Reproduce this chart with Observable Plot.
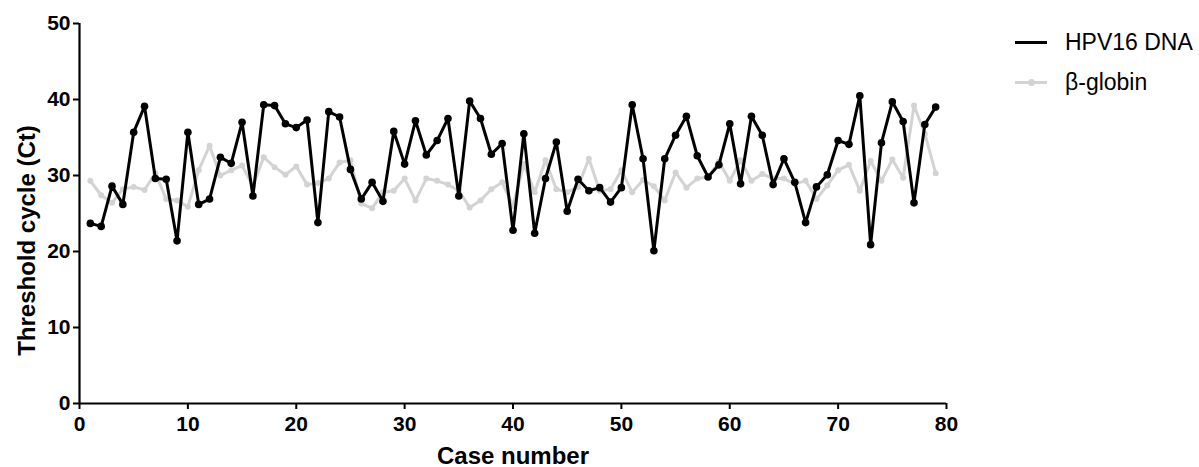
<!DOCTYPE html>
<html>
<head>
<meta charset="utf-8">
<script src="https://cdn.jsdelivr.net/npm/d3@7"></script>
<script src="https://cdn.jsdelivr.net/npm/@observablehq/plot@0.6"></script>
<style>
  html, body { margin: 0; padding: 0; background: #fff; }
  #wrap { position: relative; width: 1199px; height: 467px; }
  #legend { position: absolute; left: 1015px; top: 0; font-family: "Liberation Sans", Arial, sans-serif; font-size: 23px; color: #000; }
  .item { position: absolute; white-space: nowrap; height: 28px; line-height: 28px; }
  .sw { position: absolute; left: 0; top: 13px; width: 32px; height: 3px; }
  .lab { position: absolute; left: 50px; top: 0; }
</style>
</head>
<body>
<div id="wrap">
  <div id="chart"></div>
  <div id="legend">
    <div class="item" style="top:28px"><div class="sw" style="background:#000"></div><span class="lab">HPV16 DNA</span></div>
    <div class="item" style="top:68px"><div class="sw" style="background:#d3d3d3"></div><div style="position:absolute;left:13px;top:11px;width:7px;height:7px;border-radius:50%;background:#d3d3d3"></div><span class="lab">β-globin</span></div>
  </div>
</div>
<script>
const caseNumbers = d3.range(1, 80);
const hpv16 = [23.7, 23.3, 28.6, 26.2, 35.7, 39.1, 29.6, 29.5, 21.4, 35.7,
  26.2, 26.9, 32.4, 31.6, 37.0, 27.3, 39.3, 39.2, 36.8, 36.3,
  37.3, 23.8, 38.4, 37.7, 30.8, 26.9, 29.1, 26.6, 35.8, 31.5,
  37.2, 32.7, 34.6, 37.5, 27.3, 39.8, 37.5, 32.8, 34.2, 22.8,
  35.5, 22.4, 29.6, 34.4, 25.3, 29.5, 28.0, 28.4, 26.5, 28.4,
  39.3, 32.2, 20.1, 32.2, 35.3, 37.8, 32.6, 29.8, 31.4, 36.8,
  28.9, 37.8, 35.3, 28.8, 32.2, 29.1, 23.8, 28.5, 30.1, 34.6,
  34.1, 40.5, 20.9, 34.3, 39.7, 37.1, 26.4, 36.7, 39.0];
const betaGlobin = [29.3, 27.4, 26.4, 28.2, 28.5, 28.1, 30.3, 26.9, 26.7, 25.9,
  30.7, 33.9, 30.0, 30.7, 31.3, 28.6, 32.4, 31.1, 30.1, 31.2,
  28.8, 29.0, 29.6, 31.7, 32.0, 26.3, 25.7, 27.8, 28.0, 29.6,
  26.7, 29.6, 29.3, 28.8, 28.0, 25.8, 26.7, 28.2, 29.1, 26.0,
  31.5, 27.8, 32.0, 28.2, 27.8, 28.5, 32.2, 28.0, 28.2, 30.7,
  27.8, 29.4, 28.6, 26.7, 30.4, 28.4, 29.6, 29.8, 31.8, 29.3,
  32.0, 29.3, 30.2, 29.6, 29.6, 28.9, 29.3, 26.9, 28.7, 30.7,
  31.4, 28.0, 31.9, 29.3, 32.1, 29.7, 39.2, 35.5, 30.3];
const xTicks = [0, 10, 20, 30, 40, 50, 60, 70, 80];
const yTicks = [0, 10, 20, 30, 40, 50];

const hpvData = caseNumbers.map((c, i) => ({c, v: hpv16[i]}));
const betaData = caseNumbers.map((c, i) => ({c, v: betaGlobin[i]}));

const chart = Plot.plot({
  width: 1199,
  height: 467,
  marginLeft: 79,
  marginRight: 253,
  marginTop: 23,
  marginBottom: 64,
  style: {fontFamily: "'Liberation Sans', Arial, sans-serif", fontSize: "21px", fontWeight: "bold", color: "#000", background: "#fff"},
  x: {domain: [0, 80]},
  y: {domain: [0, 50]},
  marks: [
    Plot.axisX({ticks: xTicks, tickSize: 6, tickPadding: 7, label: null, strokeWidth: 2, fontWeight: "bold", fontSize: 21}),
    Plot.axisY({ticks: yTicks, tickSize: 6, tickPadding: 3, label: null, strokeWidth: 2, fontWeight: "bold", fontSize: 21}),
    Plot.ruleX([0], {stroke: "#000", strokeWidth: 2.2}),
    Plot.ruleY([0], {stroke: "#000", strokeWidth: 2.2}),
    Plot.line(betaData, {x: "c", y: "v", stroke: "#d3d3d3", strokeWidth: 3}),
    Plot.dot(betaData, {x: "c", y: "v", fill: "#d3d3d3", r: 3}),
    Plot.line(hpvData, {x: "c", y: "v", stroke: "#000", strokeWidth: 3}),
    Plot.dot(hpvData, {x: "c", y: "v", fill: "#000", r: 3.8}),
    Plot.text(["Case number"], {frameAnchor: "bottom", dy: 60, fontSize: 24, fontWeight: "bold", fill: "#000"}),
    Plot.text(["Threshold cycle (Ct)"], {frameAnchor: "left", textAnchor: "middle", dx: -52, dy: 27, rotate: -90, fontSize: 24, fontWeight: "bold", fill: "#000"})
  ]
});
document.getElementById("chart").appendChild(chart);
</script>
</body>
</html>
